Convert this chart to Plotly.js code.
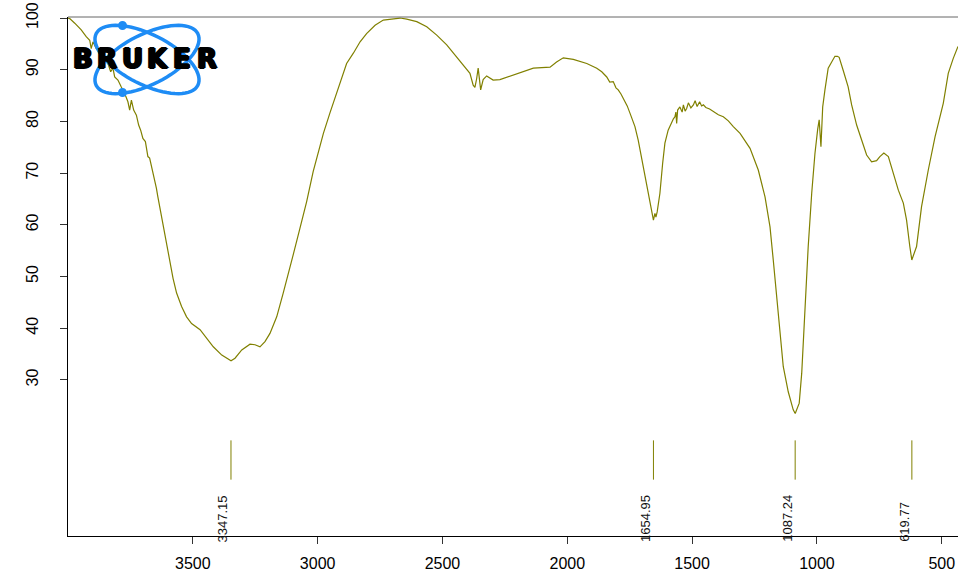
<!DOCTYPE html>
<html>
<head>
<meta charset="utf-8">
<script src="https://cdn.plot.ly/plotly-3.0.1.min.js"></script>
<style>
html,body{margin:0;padding:0;background:#fff;}
#chart{width:958px;height:572px;}
</style>
</head>
<body>
<div id="chart"></div>
<script>
// Wavenumber (cm-1) and transmittance (%)
var wavenumber = [
4000,3993,3973,3947,3927,3913,3907,3900,3887,3867,3847,3840,3829,3820,3813,3800,3787,3773,3760,3753,
3746,3737,3726,3717,3709,3700,3690,3680,3673,3660,3650,3646,3640,3629,3620,3606,3593,3579,3565,3545,
3525,3505,3471,3444,3418,3384,3347,3331,3304,3271,3251,3231,3211,3191,3164,3138,3118,3098,3071,3044,
3018,2997,2977,2951,2931,2911,2884,2857,2830,2804,2770,2737,2697,2670,2643,2603,2563,2523,2483,2443,
2410,2390,2377,2370,2363,2357,2347,2337,2323,2297,2270,2218,2163,2136,2069,2043,2016,1976,1922,1882,
1862,1842,1830,1816,1805,1796,1785,1769,1760,1749,1740,1729,1716,1702,1695,1685,1676,1666,1655,1649,
1645,1640,1629,1618,1609,1596,1582,1575,1569,1565,1562,1558,1549,1540,1535,1528,1522,1515,1505,1495,
1488,1480,1470,1462,1455,1445,1430,1415,1395,1375,1355,1335,1308,1268,1235,1208,1188,1175,1161,1148,
1135,1115,1095,1087,1071,1061,1048,1035,1021,1008,997,991,984,977,968,955,941,928,918,911,
895,875,861,841,821,801,781,770,761,748,732,714,694,674,654,641,628,620,601,581,
554,527,494,474,454,438,435];
var transmittance = [
100.0,99.9,99.0,97.7,96.4,95.7,94.1,95.4,94.1,93.8,91.9,91.2,89.6,90.3,88.6,88.0,86.7,85.4,83.8,82.2,
84.1,82.2,81.2,79.3,78.3,76.7,76.1,73.2,72.9,70.3,68.3,67.1,65.4,62.5,60.5,56.7,52.8,49.6,46.8,44.2,
42.2,40.9,39.7,38.0,36.4,34.8,33.7,34.2,35.8,36.9,36.8,36.4,37.4,39.0,42.2,46.8,50.3,54.2,59.3,64.5,
70.3,74.1,77.7,81.6,84.5,87.7,91.2,93.2,95.4,97.0,98.6,99.6,99.9,100.0,99.8,99.3,98.3,96.7,94.8,92.5,
90.6,89.3,87.0,86.6,88.3,90.3,86.1,88.1,88.8,88.0,88.1,89.0,89.9,90.3,90.5,91.5,92.3,92.0,91.2,90.3,
89.6,88.6,87.6,87.7,86.5,86.1,85.3,83.8,83.0,81.6,80.5,79.0,76.4,72.9,71.5,69.0,66.1,63.5,60.9,62.2,
61.5,62.5,66.1,71.9,75.8,78.3,79.9,80.5,80.9,81.8,79.6,82.2,82.8,81.8,83.2,82.0,82.5,83.6,82.6,83.2,
84.0,82.9,83.8,83.0,83.2,82.7,82.4,81.9,81.3,80.9,80.1,79.0,77.7,74.8,70.6,65.4,59.6,53.2,46.1,38.4,
32.6,27.7,24.2,23.5,25.5,31.3,44.2,55.8,66.1,73.8,78.5,80.3,75.1,82.8,86.1,90.3,91.5,92.6,92.6,92.4,
89.9,86.7,83.2,79.3,76.4,73.5,72.2,72.3,72.4,73.2,73.9,73.2,70.0,66.7,64.2,60.9,55.8,53.2,55.8,63.5,
70.6,77.0,83.5,89.3,92.2,94.1,94.5];

var peakWavenumbers = [3347.15, 1654.95, 1087.24, 619.77];
var xTickValues = [500, 1000, 1500, 2000, 2500, 3000, 3500];
var yTickValues = [30, 40, 50, 60, 70, 80, 90, 100];
var logoLetters = ['B', 'R', 'U', 'K', 'E', 'R'];

var OLIVE = '#808000';
var BLUE = '#1E8CF5';

// plot geometry (px) for paper conversion of the decorative logo
var ML = 68, MT = 17, MB = 36, W = 958, H = 572;
var PW = W - ML, PH = H - MT - MB;
function px2x(px){ return (px - ML) / PW; }
function py2y(py){ return (H - MB - py) / PH; }

function ellipsePath(cx, cy, a, b, deg){
  var th = deg * Math.PI / 180, s = '';
  for (var i = 0; i <= 72; i++){
    var t = i / 72 * 2 * Math.PI;
    var x = cx + a*Math.cos(t)*Math.cos(th) - b*Math.sin(t)*Math.sin(th);
    var y = cy + a*Math.cos(t)*Math.sin(th) + b*Math.sin(t)*Math.cos(th);
    s += (i === 0 ? 'M' : 'L') + px2x(x).toFixed(5) + ',' + py2y(y).toFixed(5);
  }
  return s + 'Z';
}
function dot(cx, cy, r){
  return {type:'circle', xref:'paper', yref:'paper', layer:'above',
    x0:px2x(cx-r), x1:px2x(cx+r), y0:py2y(cy+r), y1:py2y(cy-r),
    fillcolor:BLUE, line:{color:BLUE, width:0}};
}

var shapes = [];
// top frame line
shapes.push({type:'line', xref:'paper', yref:'paper', x0:0, x1:1, y0:1, y1:1,
  line:{color:'#666666', width:1}});
// peak markers
peakWavenumbers.forEach(function(p){
  shapes.push({type:'line', xref:'x', yref:'y', x0:p, x1:p, y0:10.7, y1:18.3,
    line:{color:OLIVE, width:1}});
});
// logo ellipses and dots
shapes.push({type:'path', xref:'paper', yref:'paper', layer:'above',
  path:ellipsePath(147, 59.5, 57, 25, 27), line:{color:BLUE, width:3.5}});
shapes.push({type:'path', xref:'paper', yref:'paper', layer:'above',
  path:ellipsePath(147, 59.5, 57, 25, -27), line:{color:BLUE, width:3.5}});
shapes.push(dot(122.5, 25.5, 4.5));
shapes.push(dot(122.5, 92.5, 4.5));

var annotations = [];
peakWavenumbers.forEach(function(p){
  annotations.push({xref:'x', yref:'paper', x:p, y:py2y(544), xanchor:'center', yanchor:'bottom',
    xshift:-8, text:p.toFixed(2), showarrow:false, textangle:-90,
    font:{family:'Liberation Sans, Arial, sans-serif', size:13, color:'#111'}});
});
logoLetters.forEach(function(L, i){
  annotations.push({xref:'paper', yref:'paper', x:px2x(82.5 + i*24.9), y:py2y(59),
    xanchor:'center', yanchor:'middle', text:'<b>' + L + '</b>', showarrow:false,
    font:{family:'DejaVu Sans, sans-serif', size:26, color:'#000',
      shadow:'1.2px 0px 0px #000, -1.2px 0px 0px #000, 0px 0.6px 0px #000, 0px -0.6px 0px #000'}});
});

var trace = {
  x: wavenumber, y: transmittance, type:'scatter', mode:'lines',
  line:{color:OLIVE, width:1.2}, hoverinfo:'x+y'
};

var layout = {
  width:W, height:H,
  margin:{l:ML, r:0, t:MT, b:MB, pad:0},
  paper_bgcolor:'#fff', plot_bgcolor:'#fff',
  showlegend:false,
  font:{family:'Liberation Sans, Arial, sans-serif', size:16, color:'#000'},
  xaxis:{range:[4000, 435], tickmode:'array', tickvals:xTickValues,
    showgrid:false, zeroline:false, showline:true, linecolor:'#000', linewidth:1,
    ticks:'outside', ticklen:7, tickcolor:'#333', tickwidth:1,
    ticklabelstandoff:6, tickfont:{size:16}},
  yaxis:{range:[-0.2, 100.2], tickmode:'array', tickvals:yTickValues,
    showgrid:false, zeroline:false, showline:true, linecolor:'#000', linewidth:1,
    ticks:'outside', ticklen:7, tickcolor:'#333', tickwidth:1, tickangle:-90,
    ticklabelstandoff:16, tickfont:{size:16}},
  shapes:shapes,
  annotations:annotations
};

Plotly.newPlot('chart', [trace], layout, {displayModeBar:false, staticPlot:true});
</script>
</body>
</html>
